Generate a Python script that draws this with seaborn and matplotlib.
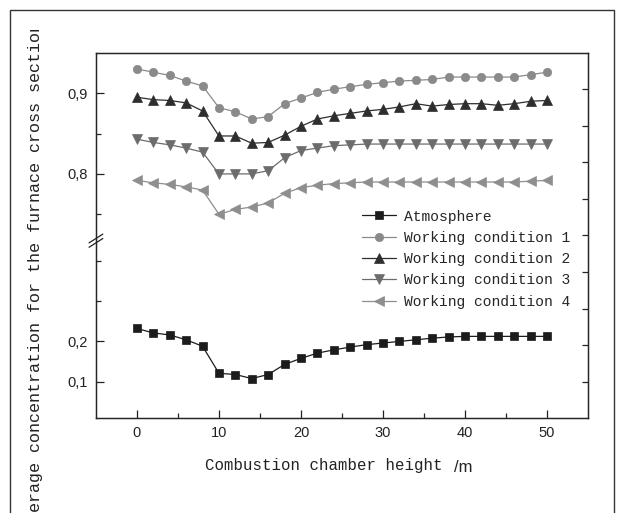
import matplotlib
matplotlib.use("Agg")
import matplotlib.pyplot as plt
import numpy as np
import pandas as pd
import seaborn as sns
from matplotlib.patches import Rectangle
from matplotlib.transforms import Bbox

# data
height = list(range(0, 51, 2))
atmosphere = [0.232, 0.221, 0.216, 0.204, 0.188, 0.121, 0.118, 0.108, 0.118, 0.143,
              0.158, 0.171, 0.179, 0.186, 0.192, 0.196, 0.200, 0.204, 0.208, 0.211,
              0.2125, 0.2125, 0.2125, 0.2125, 0.2125, 0.2125]
cond1 = [0.930, 0.926, 0.922, 0.915, 0.909, 0.882, 0.877, 0.868, 0.871, 0.887,
         0.894, 0.901, 0.905, 0.908, 0.911, 0.913, 0.915, 0.916, 0.917, 0.920,
         0.920, 0.920, 0.920, 0.920, 0.923, 0.926]
cond2 = [0.895, 0.892, 0.891, 0.888, 0.878, 0.847, 0.847, 0.838, 0.839, 0.848,
         0.859, 0.868, 0.872, 0.875, 0.878, 0.880, 0.883, 0.887, 0.884, 0.886,
         0.887, 0.887, 0.885, 0.887, 0.890, 0.891]
cond3 = [0.843, 0.839, 0.836, 0.832, 0.827, 0.800, 0.800, 0.800, 0.804, 0.820,
         0.829, 0.832, 0.835, 0.836, 0.837, 0.837, 0.837, 0.837, 0.837, 0.837,
         0.837, 0.837, 0.837, 0.837, 0.837, 0.837]
cond4 = [0.792, 0.789, 0.787, 0.784, 0.780, 0.750, 0.756, 0.759, 0.764, 0.776,
         0.783, 0.786, 0.788, 0.789, 0.790, 0.790, 0.790, 0.790, 0.790, 0.790,
         0.790, 0.790, 0.790, 0.790, 0.791, 0.792]

series_names = ["Atmosphere", "Working condition 1", "Working condition 2",
                "Working condition 3", "Working condition 4"]
series_values = [atmosphere, cond1, cond2, cond3, cond4]
series_colors = ["#1c1c1c", "#8a8a8a", "#2e2e2e", "#6c6c6c", "#8e8e8e"]
series_markers = ["s", "o", "^", "v", "<"]
series_msize = [5.5, 6, 7, 7, 7]

ytick_vals = [0.1, 0.2, 0.8, 0.9]
ytick_labels = ["0,1", "0,2", "0,8", "0,9"]
yminor_vals = [0.3, 0.4, 0.75, 0.85]

# broken y axis: lower part up to LOW_TOP, upper part from HIGH_BOT, upper part stretched 2x
LOW_TOP = 0.455
HIGH_BOT = 0.72


def fwd(y):
    y = np.asarray(y, dtype=float)
    return np.where(y <= LOW_TOP, y,
                    np.where(y >= HIGH_BOT, LOW_TOP + 2 * (y - HIGH_BOT), LOW_TOP))


def inv(t):
    t = np.asarray(t, dtype=float)
    return np.where(t <= LOW_TOP, t, HIGH_BOT + (t - LOW_TOP) / 2)


sns.set_style("ticks")
plt.rcParams["font.family"] = ["Liberation Sans", "DejaVu Sans"]
mono = ["Liberation Mono", "DejaVu Sans Mono"]

fig = plt.figure(figsize=(6.19, 5.13), dpi=100)
ax = fig.add_axes([0.155, 0.185, 0.795, 0.712])

for name, vals, col, mk, ms in zip(series_names, series_values, series_colors,
                                   series_markers, series_msize):
    df = pd.DataFrame({"h": height, "c": vals})
    sns.lineplot(data=df, x="h", y="c", ax=ax, color=col, marker=mk, markersize=ms,
                 markeredgecolor=col, markeredgewidth=0.5, linewidth=0.9,
                 label=name, estimator=None)

ax.set_yscale("function", functions=(fwd, inv))
ax.set_ylim(0.01, 0.95)
ax.set_xlim(-5, 55)

ax.set_yticks(ytick_vals)
ax.set_yticklabels(ytick_labels)
ax.set_yticks(yminor_vals, minor=True)
ax.set_xticks([0, 10, 20, 30, 40, 50])
ax.set_xticks([5, 15, 25, 35, 45], minor=True)
ax.tick_params(which="major", direction="in", length=6, width=0.9, labelsize=10.5,
               colors="#222222", pad=6)
ax.tick_params(which="minor", direction="in", length=3.5, width=0.9)
ax.tick_params(top=False, right=False, which="both")
for s in ax.spines.values():
    s.set_linewidth(1.0)
    s.set_color("#222222")
    s.set_visible(True)

ax.set_xlabel("")
ax.set_ylabel("")

# right-hand ticks
ax2 = ax.twinx()
ax2.set_ylim(0, 1)
ax2.set_yticks(np.arange(1, 10) / 10)
ax2.tick_params(direction="in", length=4.5, width=0.9, labelright=False)

# break marks on the left spine
brk = (fwd(LOW_TOP) - 0.01) / (fwd(0.95) - 0.01)
for off in (-0.012, 0.0):
    ax.plot([-0.014, 0.014], [brk + off - 0.012, brk + off + 0.012],
            transform=ax.transAxes, color="#222222", lw=0.9, clip_on=False)

leg = ax.legend(loc="upper left", bbox_to_anchor=(0.529, 0.587), frameon=False,
                prop={"family": mono, "size": 10.5}, handlelength=2.3,
                handletextpad=0.6, labelspacing=0.5, borderaxespad=0)

ax.text(0.462, -0.13, "Combustion chamber height", transform=ax.transAxes,
        ha="center", va="center", family=mono, fontsize=11.3, color="#222222")
ax.text(0.728, -0.135, "/m", transform=ax.transAxes, ha="left", va="center",
        fontsize=12, color="#222222")

ylab = fig.text(0.058, 1 - 277 / 513, "Average concentration for the furnace cross section",
                rotation=90, ha="center", va="center", family=mono, fontsize=12.1,
                color="#222222")
ylab.set_clip_box(Bbox.from_extents(0, 0, 619, 513 - 30))
ylab.set_clip_on(True)

fig.patches.append(Rectangle((10 / 619, -0.1), 604 / 619, 1.1 - 10 / 513,
                             transform=fig.transFigure, fill=False,
                             edgecolor="#333333", lw=1.0))

fig.savefig("out.png", dpi=100)
